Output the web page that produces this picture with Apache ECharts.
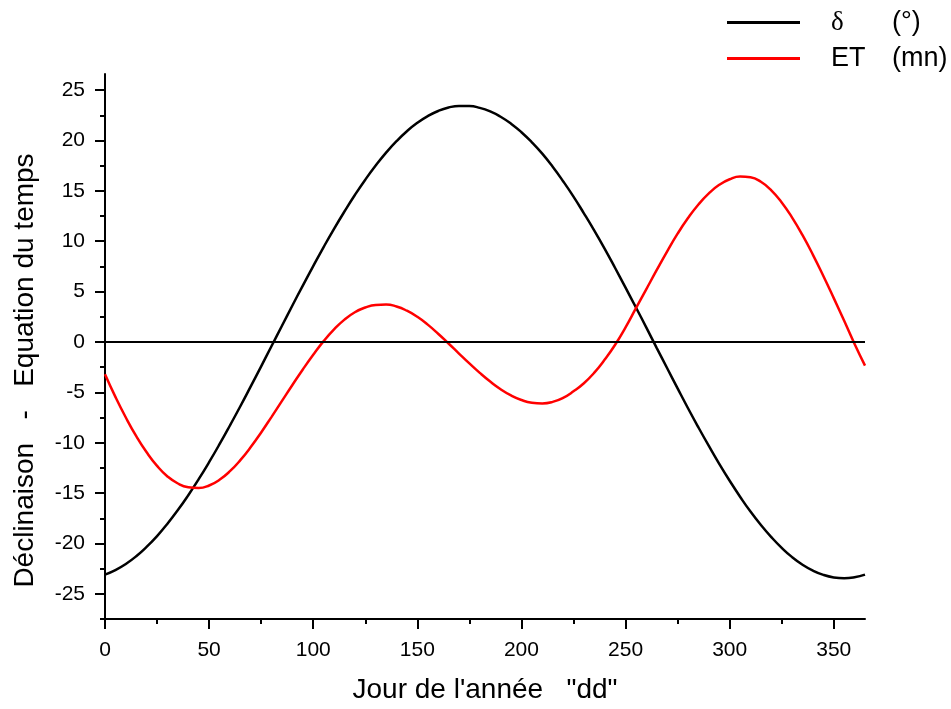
<!DOCTYPE html>
<html><head><meta charset="utf-8">
<script src="https://cdn.jsdelivr.net/npm/echarts@6/dist/echarts.min.js"></script>
<style>html,body{margin:0;padding:0;background:#fff}#c{width:951px;height:709px}</style>
</head><body><div id="c"></div>
<script>
// Day of year
const days = [0,5,10,15,20,25,30,35,40,45,50,55,60,65,70,75,80,85,90,95,100,105,110,115,120,125,130,135,140,145,150,155,160,165,170,175,180,185,190,195,200,205,210,215,220,225,230,235,240,245,250,255,260,265,270,275,280,285,290,295,300,305,310,315,320,325,330,335,340,345,350,355,360,365];
// Declination (degrees)
const declination = [-23.09,-22.65,-22.04,-21.27,-20.34,-19.27,-18.04,-16.69,-15.21,-13.62,-11.93,-10.15,-8.29,-6.38,-4.41,-2.42,-0.40,1.61,3.62,5.60,7.53,9.42,11.23,12.95,14.59,16.11,17.51,18.79,19.93,20.92,21.75,22.42,22.93,23.27,23.43,23.42,23.24,22.89,22.36,21.67,20.82,19.82,18.69,17.39,15.96,14.43,12.77,11.05,9.24,7.34,5.39,3.42,1.43,-0.61,-2.61,-4.61,-6.58,-8.48,-10.32,-12.10,-13.78,-15.36,-16.84,-18.17,-19.37,-20.44,-21.36,-22.11,-22.70,-23.12,-23.37,-23.45,-23.35,-23.09];
// Equation of time (minutes)
const equationOfTime = [-3.20,-5.45,-7.50,-9.35,-10.95,-12.30,-13.35,-14.05,-14.42,-14.50,
  -14.25,-13.68,-12.83,-11.73,-10.43,-8.98,-7.43,-5.85,-4.27,-2.73,
  -1.27,0.08,1.25,2.22,2.95,3.42,3.68,3.72,3.52,3.10,
  2.50,1.72,0.82,-0.15,-1.15,-2.13,-3.07,-3.93,-4.69,-5.31,
  -5.76,-6.03,-6.10,-5.95,-5.55,-4.90,-4.10,-3.05,-1.75,-0.28,
  1.45,3.35,5.25,7.15,9.00,10.75,12.30,13.65,14.75,15.60,
  16.15,16.42,16.35,15.90,15.05,13.85,12.35,10.60,8.65,6.55,
  4.35,2.10,-0.20,-2.35];

const seriesNames = ['δ', 'ET'];
const seriesUnits = ['(°)', '(mn)'];
const xMajorTicks = [0,50,100,150,200,250,300,350];
const xMinorTicks = [25,75,125,175,225,275,325];
const yMajorTicks = [-25,-20,-15,-10,-5,0,5,10,15,20,25];
const yMinorTicks = [-27.5,-22.5,-17.5,-12.5,-7.5,-2.5,2.5,7.5,12.5,17.5,22.5];
const xName = 'Jour de l\'année   "dd"';
const yName = 'Déclinaison   -   Equation du temps';

const font = 'Arial, "Liberation Sans", sans-serif';
const chart = echarts.init(document.getElementById('c'), null, {renderer: 'canvas'});

const pair = (xs, ys) => xs.map((x, i) => [x, ys[i]]);

const xCommon = {type: 'value', min: 0, max: 365, splitLine: {show: false}};
const yCommon = {type: 'value', min: -27.5, max: 26.6, splitLine: {show: false}};

chart.setOption({
  animation: false,
  backgroundColor: '#fff',
  grid: {left: 105, right: 86, top: 74, bottom: 87, containLabel: false},
  legend: {
    orient: 'vertical', left: 727, top: 7, padding: 0,
    icon: 'rect', itemWidth: 73, itemHeight: 3, itemGap: 5,
    data: seriesNames,
    formatter: function (name) {
      const i = seriesNames.indexOf(name);
      const st = i === 0 ? 'd' : 'a';
      return '{' + st + '|' + name + '}{b|' + seriesUnits[i] + '}';
    },
    textStyle: {
      color: '#000', fontSize: 27, fontFamily: font, lineHeight: 31,
      rich: {
        a: {width: 61, padding: [0,0,0,26], fontSize: 27, lineHeight: 31, fontFamily: font, color: '#000'},
        d: {width: 61, padding: [0,0,0,26], fontSize: 27, lineHeight: 31, fontFamily: '"Liberation Serif", "DejaVu Serif", serif', color: '#000'},
        b: {fontSize: 27, lineHeight: 31, fontFamily: font, color: '#000'}
      }
    }
  },
  xAxis: [
    Object.assign({}, xCommon, {
      name: xName, nameLocation: 'middle', nameGap: 57,
      nameTextStyle: {fontSize: 28, fontFamily: font, color: '#000'},
      axisLine: {show: true, onZero: false, lineStyle: {color: '#000', width: 2}},
      axisTick: {show: true, inside: false, length: 10, lineStyle: {color: '#000', width: 2}, customValues: xMajorTicks},
      axisLabel: {show: true, margin: 21, fontSize: 21, fontFamily: font, color: '#000', customValues: xMajorTicks}
    }),
    Object.assign({}, xCommon, {
      position: 'bottom',
      axisLine: {show: false, onZero: false},
      axisTick: {show: true, inside: false, length: 5, lineStyle: {color: '#000', width: 2}, customValues: xMinorTicks},
      axisLabel: {show: false}
    })
  ],
  yAxis: [
    Object.assign({}, yCommon, {
      name: yName, nameLocation: 'middle', nameGap: 66, nameRotate: 90,
      nameTextStyle: {fontSize: 28, fontFamily: font, color: '#000', padding: [0, 48, 0, 0]},
      axisLine: {show: true, onZero: false, lineStyle: {color: '#000', width: 2}},
      axisTick: {show: true, inside: false, length: 10, lineStyle: {color: '#000', width: 2}, customValues: yMajorTicks},
      axisLabel: {show: true, margin: 20, fontSize: 21, fontFamily: font, color: '#000', customValues: yMajorTicks}
    }),
    Object.assign({}, yCommon, {
      position: 'left',
      axisLine: {show: false, onZero: false},
      axisTick: {show: true, inside: false, length: 5, lineStyle: {color: '#000', width: 2}, customValues: yMinorTicks},
      axisLabel: {show: false}
    })
  ],
  series: [
    {
      name: seriesNames[0], type: 'line', data: pair(days, declination),
      xAxisIndex: 0, yAxisIndex: 0,
      smooth: 0.5, symbol: 'none', showSymbol: false,
      lineStyle: {color: '#000', width: 2.5}, itemStyle: {color: '#000'},
      z: 3,
      markLine: {
        silent: true, symbol: ['none', 'none'], label: {show: false},
        lineStyle: {color: '#000', width: 2, type: 'solid'},
        emphasis: {disabled: true},
        data: [{yAxis: 0}]
      }
    },
    {
      name: seriesNames[1], type: 'line', data: pair(days, equationOfTime),
      xAxisIndex: 0, yAxisIndex: 0,
      smooth: 0.5, symbol: 'none', showSymbol: false,
      lineStyle: {color: '#ff0000', width: 2.5}, itemStyle: {color: '#ff0000'},
      z: 4
    }
  ]
});
</script>
</body></html>
